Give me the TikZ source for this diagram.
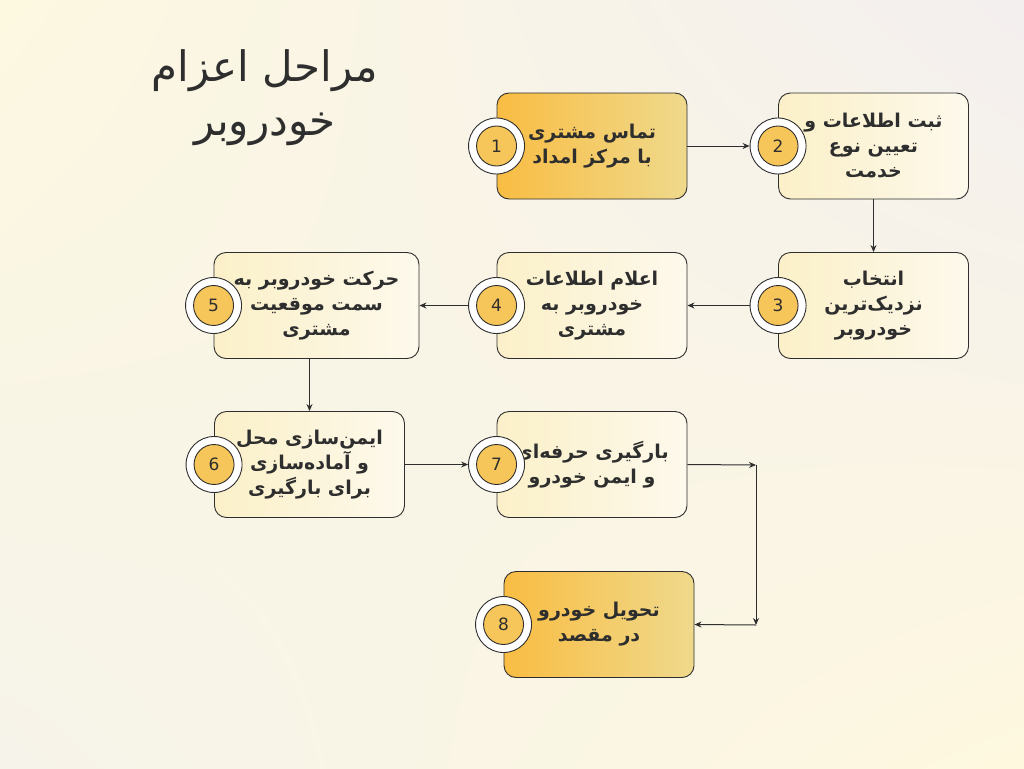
\documentclass[tikz,border=0pt]{standalone}
\usepackage{fontspec}
\usetikzlibrary{arrows.meta,positioning,shadings}
\TeXXeTstate=1
\newfontfamily\arabicfont[Script=Arabic]{DejaVu Sans}
\setmainfont{DejaVu Sans}
\newcommand{\fa}[1]{{\arabicfont\beginR #1\endR}}
\definecolor{ink}{HTML}{2E2E2E}
\definecolor{hotL}{HTML}{F9BD43}
\definecolor{hotR}{HTML}{EFD98C}
\definecolor{paleL}{HTML}{FBF0C8}
\definecolor{paleR}{HTML}{FDF9EC}
\definecolor{dotfill}{HTML}{F7C65A}
\definecolor{bgUL}{HTML}{FDF8E0}
\definecolor{bgUR}{HTML}{F3EFEF}
\definecolor{bgLL}{HTML}{F6F3EA}
\definecolor{bgLR}{HTML}{FEF8DF}
\tikzset{
  stepbox/.style={draw=ink, line width=0.9pt, rounded corners=12pt,
    minimum width=190pt, minimum height=106pt, align=center,
    left color=paleL, right color=paleR, text=ink,
    font=\fontsize{19}{25}\selectfont\bfseries},
  hotbox/.style={stepbox, left color=hotL, right color=hotR},
  numring/.style={circle, draw=ink, line width=0.9pt, fill=white,
    minimum size=56pt, inner sep=0pt},
  numdot/.style={circle, draw=ink, line width=0.9pt, fill=dotfill,
    minimum size=40pt, inner sep=0pt, text=ink, font=\fontsize{17}{17}\selectfont},
  link/.style={draw=ink, line width=1pt, -{Stealth[length=7pt,width=6pt]}}
}
\begin{document}
\begin{tikzpicture}[x=1pt,y=-1pt]
  % background
  \shade[upper left=bgUL, upper right=bgUR, lower left=bgLL, lower right=bgLR]
    (0,0) rectangle (1024,768);
  \useasboundingbox (0,0) rectangle (1024,768);

  % title
  \node[text=ink, align=center, font=\fontsize{42}{54}\selectfont] (title) at (265,98)
    {\fa{مراحل اعزام}\\\fa{خودروبر}};

  % boxes
  \node[hotbox] (b1) at (592,146) {\fa{تماس مشتری}\\\fa{با مرکز امداد}};
  \node[stepbox] (b2) at (873.5,146) {\fa{ثبت اطلاعات و}\\\fa{تعیین نوع}\\\fa{خدمت}};
  \node[stepbox] (b3) at (873.5,305.5) {\fa{انتخاب}\\\fa{نزدیک‌ترین}\\\fa{خودروبر}};
  \node[stepbox] (b4) at (592,305.5) {\fa{اعلام اطلاعات}\\\fa{خودروبر به}\\\fa{مشتری}};
  \node[stepbox, minimum width=205pt] (b5) at (316.5,305.5) {\fa{حرکت خودروبر به}\\\fa{سمت موقعیت}\\\fa{مشتری}};
  \node[stepbox] (b6) at (309.5,464.5) {\fa{ایمن‌سازی محل}\\\fa{و آماده‌سازی}\\\fa{برای بارگیری}};
  \node[stepbox] (b7) at (592,464.5) {\fa{بارگیری حرفه‌ای}\\\fa{و ایمن خودرو}};
  \node[hotbox] (b8) at (599,624.5) {\fa{تحویل خودرو}\\\fa{در مقصد}};

  % number badges
  \foreach \i in {1,...,8} {
    \node[numring] (c\i) at (b\i.west) {};
    \node[numdot] (d\i) at (b\i.west) {\i};
  }

  % connectors
  \draw[link] (b1.east) -- (c2.west);
  \draw[link] (b2.south) -- (b3.north);
  \draw[link] (c3.west) -- (b4.east);
  \draw[link] (c4.west) -- (b5.east);
  \draw[link] (b6.north |- b5.south) -- (b6.north);
  \draw[link] (b6.east) -- (c7.west);
  \coordinate (k1) at (756,465);
  \coordinate (k2) at (756,625);
  \draw[link] (b7.east) -- (k1);
  \draw[link] (k1) -- (k2);
  \draw[link] (k2) -- (b8.east);
\end{tikzpicture}
\end{document}
